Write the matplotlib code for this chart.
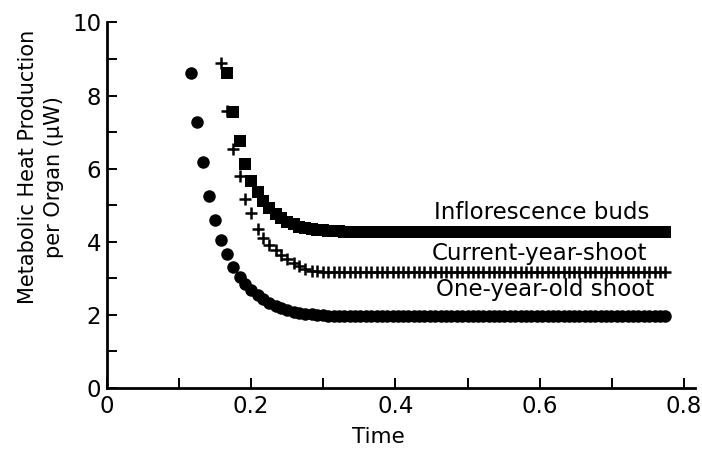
import matplotlib
matplotlib.use("Agg")
import matplotlib.pyplot as plt
from matplotlib.ticker import MultipleLocator

time = [
    0.117, 0.125, 0.134, 0.142, 0.150, 0.159, 0.167, 0.175, 0.184, 0.192,
    0.200, 0.209, 0.217, 0.225, 0.234, 0.242, 0.250, 0.259, 0.267, 0.275,
    0.284, 0.292, 0.300,
    0.307, 0.315, 0.322, 0.329, 0.337, 0.344, 0.351, 0.359,
    0.366, 0.374, 0.381, 0.389, 0.396, 0.403, 0.411, 0.418,
    0.426, 0.433, 0.440, 0.448, 0.455, 0.463, 0.470, 0.477,
    0.485, 0.492, 0.500, 0.507, 0.514, 0.522, 0.529, 0.537,
    0.544, 0.551, 0.559, 0.566, 0.574, 0.581, 0.588, 0.596,
    0.603, 0.611, 0.618, 0.625, 0.633, 0.640, 0.648, 0.655,
    0.662, 0.670, 0.677, 0.685, 0.692, 0.699, 0.707, 0.714,
    0.722, 0.729, 0.736, 0.744, 0.751, 0.759, 0.766, 0.773,
]

# one-year-old shoot, starts at time[0]
one_year_old = [
    8.62, 7.27, 6.17, 5.26, 4.59, 4.05, 3.66, 3.32, 3.04, 2.84,
    2.68, 2.54, 2.42, 2.32, 2.25, 2.18, 2.13, 2.08, 2.05, 2.03,
    2.01, 2.00, 1.99,
    1.98, 1.98, 1.98, 1.98, 1.98, 1.98, 1.98, 1.98,
    1.98, 1.98, 1.98, 1.98, 1.98, 1.98, 1.98, 1.98,
    1.98, 1.98, 1.98, 1.98, 1.98, 1.98, 1.98, 1.98,
    1.98, 1.98, 1.98, 1.98, 1.98, 1.98, 1.98, 1.98,
    1.98, 1.98, 1.98, 1.98, 1.98, 1.98, 1.98, 1.98,
    1.98, 1.98, 1.98, 1.98, 1.98, 1.98, 1.98, 1.98,
    1.98, 1.98, 1.98, 1.98, 1.98, 1.98, 1.98, 1.98,
    1.98, 1.98, 1.98, 1.98, 1.98, 1.98, 1.98, 1.98,
]

# current-year shoot, starts at time[5]
current_year = [
    8.88, 7.57, 6.55, 5.80, 5.17, 4.78, 4.35, 4.09, 3.92, 3.78,
    3.65, 3.54, 3.42, 3.33, 3.25, 3.21, 3.19, 3.18,
    3.17, 3.17, 3.17, 3.17, 3.17, 3.17, 3.17, 3.17,
    3.17, 3.17, 3.17, 3.17, 3.17, 3.17, 3.17, 3.17,
    3.17, 3.17, 3.17, 3.17, 3.17, 3.17, 3.17, 3.17,
    3.17, 3.17, 3.17, 3.17, 3.17, 3.17, 3.17, 3.17,
    3.17, 3.17, 3.17, 3.17, 3.17, 3.17, 3.17, 3.17,
    3.17, 3.17, 3.17, 3.17, 3.17, 3.17, 3.17, 3.17,
    3.17, 3.17, 3.17, 3.17, 3.17, 3.17, 3.17, 3.17,
    3.16, 3.16, 3.16, 3.16, 3.16, 3.16, 3.16, 3.16,
]

# inflorescence buds, starts at time[6]
inflorescence = [
    8.61, 7.56, 6.75, 6.12, 5.66, 5.35, 5.12, 4.93, 4.76, 4.64,
    4.55, 4.48, 4.41, 4.37, 4.34, 4.32, 4.31,
    4.30, 4.29, 4.29, 4.28, 4.28, 4.28, 4.28, 4.28,
    4.28, 4.28, 4.28, 4.28, 4.28, 4.28, 4.28, 4.28,
    4.28, 4.28, 4.28, 4.28, 4.28, 4.28, 4.28, 4.28,
    4.28, 4.28, 4.28, 4.28, 4.28, 4.28, 4.28, 4.28,
    4.28, 4.28, 4.28, 4.28, 4.28, 4.28, 4.28, 4.28,
    4.28, 4.28, 4.28, 4.28, 4.28, 4.28, 4.28, 4.28,
    4.27, 4.27, 4.27, 4.27, 4.27, 4.27, 4.27, 4.27,
    4.27, 4.27, 4.27, 4.27, 4.27, 4.27, 4.27, 4.27,
]

series_names = ["Inflorescence buds", "Current-year-shoot", "One-year-old shoot"]
x_tick_labels = ["0", "0.2", "0.4", "0.6", "0.8"]

fig = plt.figure(figsize=(7.02, 4.49), dpi=100)
ax = fig.add_axes([0.152, 0.136, 0.838, 0.814])

ax.plot(time[-len(one_year_old):], one_year_old, "o", color="black",
        markersize=9, markeredgewidth=0, linestyle="none")
ax.plot(time[-len(current_year):], current_year, "+", color="black",
        markersize=8.5, markeredgewidth=1.8, linestyle="none")
ax.plot(time[-len(inflorescence):], inflorescence, "s", color="black",
        markersize=8.5, markeredgewidth=0, linestyle="none")

text_kw = dict(fontsize=16.5, ha="center", va="baseline")
ax.text(0.6025, 4.62, series_names[0], **text_kw)
ax.text(0.600, 3.50, series_names[1], **text_kw)
ax.text(0.607, 2.52, series_names[2], **text_kw)

ax.set_xlim(0, 0.815)
ax.set_ylim(0, 10)
ax.xaxis.set_minor_locator(MultipleLocator(0.1))
ax.yaxis.set_major_locator(MultipleLocator(2))
ax.yaxis.set_minor_locator(MultipleLocator(1))
ax.set_xticks([0, 0.2, 0.4, 0.6, 0.8])
ax.set_xticklabels(x_tick_labels)

for side in ("top", "right"):
    ax.spines[side].set_visible(False)
for side in ("left", "bottom"):
    ax.spines[side].set_linewidth(2)

ax.tick_params(which="both", direction="in", length=7, width=1.4, labelsize=16.5)
ax.tick_params(axis="x", pad=5)
ax.tick_params(axis="y", pad=4)

fig.text(378 / 702, 1 - 437 / 449, "Time", fontsize=15.5, ha="center", va="center")
fig.text(28 / 702, 1 - 167 / 449, "Metabolic Heat Production", fontsize=15,
         rotation=90, ha="center", va="center")
fig.text(54 / 702, 1 - 177 / 449, "per Organ (\u03bcW)", fontsize=15,
         rotation=90, ha="center", va="center")

fig.savefig("out.png", dpi=100)
